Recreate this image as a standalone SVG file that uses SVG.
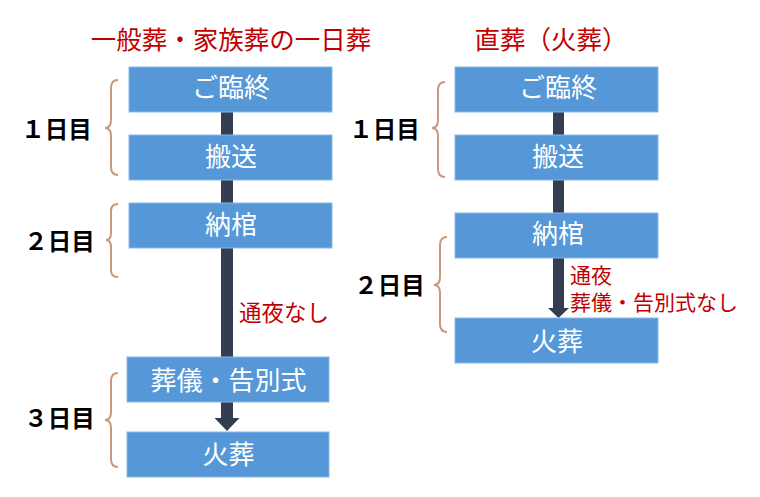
<svg xmlns="http://www.w3.org/2000/svg" width="760" height="497" viewBox="0 0 760 497">
<style>
.box{fill:#5597D7;stroke:#8BB8E6;stroke-width:1}
.bt{font-family:"Noto Sans CJK JP","Noto Sans",sans-serif;font-size:26px;fill:#FFFFFF;text-anchor:middle}
.title{font-family:"Noto Sans CJK JP","Noto Sans",sans-serif;font-size:25.5px;fill:#C00000;text-anchor:middle}
.day{font-family:"Noto Sans CJK JP","Noto Sans",sans-serif;font-size:23.5px;font-weight:bold;fill:#000000;text-anchor:middle}
.note{font-family:"Liberation Sans","Noto Sans CJK JP",sans-serif;fill:#C00000}
.brace{fill:none;stroke:#C9987C;stroke-width:2}
.shaft{fill:#333F50}
</style>
<rect width="760" height="497" fill="#FFFFFF"/>
<text class="title" x="231" y="49">一般葬・家族葬の一日葬</text>
<text class="title" x="551" y="49">直葬（火葬）</text>
<g id="connectors">
<path class="shaft" d="M221 100 H233 V418 H239.5 L227 431 L214.5 418 H221 Z"/>
<path class="shaft" d="M553 100 H564 V308 H569 L558.5 318 L548 308 H553 Z"/>
</g>
<g id="L1"><rect class="box" x="129" y="67" width="203" height="45"/><text class="bt" x="231" y="97">ご臨終</text></g>
<g id="L2"><rect class="box" x="129" y="135" width="203" height="45"/><text class="bt" x="231" y="165.5">搬送</text></g>
<g id="L3"><rect class="box" x="129" y="203" width="203" height="45"/><text class="bt" x="231" y="233.5">納棺</text></g>
<g id="L4"><rect class="box" x="127" y="357" width="202" height="45"/><text class="bt" x="228.5" y="389.5">葬儀・告別式</text></g>
<g id="L5"><rect class="box" x="127" y="432" width="202" height="45"/><text class="bt" x="228.5" y="463.5">火葬</text></g>
<g id="R1"><rect class="box" x="455" y="67" width="203" height="45"/><text class="bt" x="558" y="97">ご臨終</text></g>
<g id="R2"><rect class="box" x="455" y="135" width="203" height="45"/><text class="bt" x="558" y="165.5">搬送</text></g>
<g id="R3"><rect class="box" x="455" y="213" width="203" height="45"/><text class="bt" x="558" y="242.5">納棺</text></g>
<g id="R4"><rect class="box" x="455" y="318" width="203" height="45"/><text class="bt" x="557" y="350.5">火葬</text></g>
<g id="notes">
<text class="note" x="239" y="321" font-size="22.5">通夜なし</text>
<text class="note" x="570" y="282.5" font-size="21">通夜</text>
<text class="note" x="570" y="309.5" font-size="21">葬儀・告別式なし</text>
</g>
<g id="braces">
<path class="brace" d="M118 80 Q111 80 111 88 V120 Q111 128 105 128 Q111 128 111 136 V167 Q111 175 118 175"/>
<path class="brace" d="M118 204 Q111 204 111 211 V233 Q111 240 106 240 Q111 240 111 247 V270 Q111 277 118 277"/>
<path class="brace" d="M118 373 Q111 373 111 381 V412 Q111 420 105 420 Q111 420 111 428 V459 Q111 467 118 467"/>
<path class="brace" d="M445 82 Q438 82 438 90 V120 Q438 128 432 128 Q438 128 438 136 V169 Q438 177 445 177"/>
<path class="brace" d="M447 237 Q440 237 440 245 V277 Q440 285 434 285 Q440 285 440 293 V324 Q440 332 447 332"/>
</g>
<g id="days">
<text class="day" x="56.5" y="138">１日目</text>
<text class="day" x="59.5" y="250">２日目</text>
<text class="day" x="59.5" y="426.5">３日目</text>
<text class="day" x="384.5" y="138">１日目</text>
<text class="day" x="389.5" y="294">２日目</text>
</g>
</svg>
